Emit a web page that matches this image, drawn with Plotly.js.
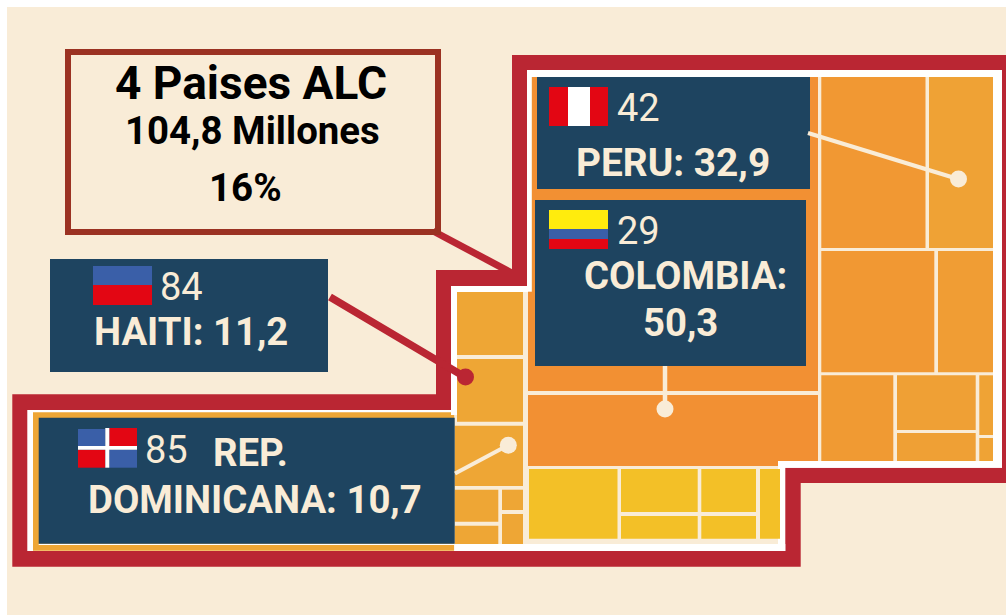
<!DOCTYPE html>
<html>
<head>
<meta charset="utf-8">
<script src="https://cdn.plot.ly/plotly-3.0.1.min.js"></script>
<style>html,body{margin:0;padding:0;background:#fff}#c{width:1006px;height:615px}</style>
</head>
<body>
<div id="c"></div>
<script>
// ---- chart content ----
const countries = ["PERU", "COLOMBIA", "HAITI", "REP. DOMINICANA"];
const ranks = [42, 29, 84, 85];
const populations = ["32,9", "50,3", "11,2", "10,7"];
const summaryTitle = "4 Paises ALC";
const summaryTotal = "104,8 Millones";
const summaryShare = "16%";

// ---- palette ----
const CREAM = "#F9ECD7", RED = "#BA2633", NAVY = "#1E4460", BROWN = "#9B3222", WHITE = "#FFFFFF";
const FRED = "#E30613", FBLUE = "#3A5FA8", FYEL = "#FFEC0D";

// ---- treemap cell geometry in axis units: [x0, x1, y0, y1, colour] ----
const cellTable = [
  [532, 818, 77, 391, "#F29033"], [528, 532, 291.7, 391, "#F29033"], [528, 818, 395, 466, "#F29033"],
  [821.3, 925.5, 77, 248, "#F19833"], [929, 993, 77, 248, "#EFA235"],
  [821.3, 934.3, 251, 372.3, "#F19833"], [938, 993, 251, 372.3, "#F09D34"],
  [821.3, 893.3, 375.3, 461, "#F09A33"], [897, 975.7, 375.3, 430, "#EFA035"],
  [897, 975.7, 433, 461, "#EFA035"], [979.3, 993, 375.3, 435, "#EFA335"], [979.3, 993, 438, 461, "#EFA335"],
  [457, 523, 292, 355, "#EEA635"], [457, 523, 359, 421.7, "#EEA635"], [454.7, 523, 425.7, 486, "#EEA635"],
  [454.7, 498.3, 489.7, 521.7, "#EEA635"], [454.7, 498.3, 525.7, 544, "#EEA635"],
  [502, 523, 489.7, 510, "#EEA635"], [502, 523, 514, 544, "#EEA635"],
  [33, 454.3, 412.3, 550.7, "#EEA635"]
];
const yellowCells = [
  [529, 617.5, 469, 538.7], [621, 697.7, 469, 512], [621, 697.7, 516, 538.7],
  [701.3, 756, 469, 512], [701.3, 756, 516, 538.7], [760, 780, 469, 538.7]
];
// ---- outline polygons in axis units ----
const outerX = [512,1006,1006,800.7,800.7,12.3,12.3,436,436,512,512];
const outerY = [55,55,483,483,566.7,566.7,394.3,394.3,270,270,55];
const whiteX = [527,1002,1002,785.3,785.3,27.3,27.3,451,451,527,527];
const whiteY = [70,70,467.7,467.7,551,551,410,410,286,286,70];
const innerX = [531,993,993,778,778,454.7,454.7,457,457,531,531];
const innerY = [77,77,461,461,544,544,413,413,292,292,77];

const traces = [];
function poly(xs, ys, colour) {
  traces.push({type:"scatter", mode:"lines", x:xs, y:ys, fill:"toself", fillcolor:colour,
    line:{width:0, color:colour}, hoverinfo:"skip", showlegend:false});
}
function rect(x0, x1, y0, y1, colour) { poly([x0,x1,x1,x0,x0],[y0,y0,y1,y1,y0],colour); }
function path(xs, ys, colour, w) {
  traces.push({type:"scatter", mode:"lines", x:xs, y:ys, line:{width:w, color:colour},
    hoverinfo:"skip", showlegend:false});
}
function dot(x, y, colour) {
  traces.push({type:"scatter", mode:"markers", x:[x], y:[y], marker:{size:17, color:colour},
    hoverinfo:"skip", showlegend:false});
}

rect(7, 1006, 7, 615, CREAM);
path([433,512],[231,273], RED, 7);
poly(outerX, outerY, RED);
poly(whiteX, whiteY, WHITE);
poly(innerX, innerY, CREAM);
cellTable.forEach(c => rect(c[0], c[1], c[2], c[3], c[4]));
rect(778, 1002, 461, 467.7, WHITE);
rect(451, 457, 410, 415, WHITE);
yellowCells.forEach(c => rect(c[0], c[1], c[2], c[3], "#F3C027"));
rect(38.7, 454.7, 543.7, 545, WHITE);
rect(454.3, 785.3, 544, 551, WHITE);

// label boxes
rect(537, 810, 77, 189, NAVY);
rect(535, 806, 200, 366, NAVY);
rect(50, 328, 259, 372, NAVY);
rect(38.7, 454.7, 417.7, 543.7, NAVY);

// leader lines and dots
path([808,958],[133,179], CREAM, 4); dot(958.5,179,CREAM);
path([665,665],[366,409], CREAM, 4.5);   dot(665,409,CREAM);
path([455,508],[473.5,445.3], CREAM, 4); dot(508.3,445.3,CREAM);
path([330,465],[297,377], RED, 7.5);   dot(465.5,377,RED);

// summary box
path([253,438,438,68,68,253],[52,52,232,232,52,52], BROWN, 6);

// flags
rect(549,568,87,126,FRED); rect(568,590,87,126,WHITE); rect(590,608,87,126,FRED);
rect(549,608,210,229,FYEL); rect(549,608,229,239,FBLUE); rect(549,608,239,249,FRED);
rect(93,152,266,285,FBLUE); rect(93,152,285,305,FRED);
rect(78,105.3,429,446,FBLUE); rect(109.3,137,428,446,FRED);
rect(78,105.3,449.7,467.7,FRED);  rect(109.3,137,449.7,467.7,FBLUE);
rect(78,137,446,449.7,WHITE); rect(105.3,109.3,428,467.7,WHITE);

function label(text, x, y, size, weight, colour, anchor) {
  return {text:text, x:x, y:y, xref:"x", yref:"y", showarrow:false, xanchor:anchor||"center", yanchor:"middle",
    borderpad:0, font:{family:"Roboto", size:size, color:colour, weight:weight}};
}
const annotations = [
  label(summaryTitle, 251, 83, 46, 700, "#000"),
  label(summaryTotal, 252, 130.5, 38.4, 700, "#000"),
  label(summaryShare, 245.5, 187, 38.5, 700, "#000"),
  label(String(ranks[0]), 615.5, 107.5, 38, 400, CREAM, "left"),
  label(countries[0] + ": " + populations[0], 672.5, 162, 38.8, 700, CREAM),
  label(String(ranks[1]), 615.5, 231, 38, 400, CREAM, "left"),
  label(countries[1] + ":", 685.5, 275, 38.3, 700, CREAM),
  label(populations[1], 680.5, 322, 38.3, 700, CREAM),
  label(String(ranks[2]), 159, 287, 38, 400, CREAM, "left"),
  label(countries[2] + ": " + populations[2], 190.5, 331, 38.3, 700, CREAM),
  label(String(ranks[3]), 144, 450, 38, 400, CREAM, "left"),
  label(countries[3].split(" ")[0], 212, 452, 38.3, 700, CREAM, "left"),
  label(countries[3].split(" ")[1] + ": " + populations[3], 254.5, 499, 38.3, 700, CREAM)
];

const layout = {
  width:1006, height:615, margin:{l:0,r:0,t:0,b:0}, showlegend:false,
  paper_bgcolor:WHITE, plot_bgcolor:WHITE, annotations:annotations,
  xaxis:{range:[0,1006], visible:false, fixedrange:true},
  yaxis:{range:[615,0], visible:false, fixedrange:true}
};
Plotly.newPlot("c", traces, layout, {displayModeBar:false, staticPlot:true});
</script>
</body>
</html>
